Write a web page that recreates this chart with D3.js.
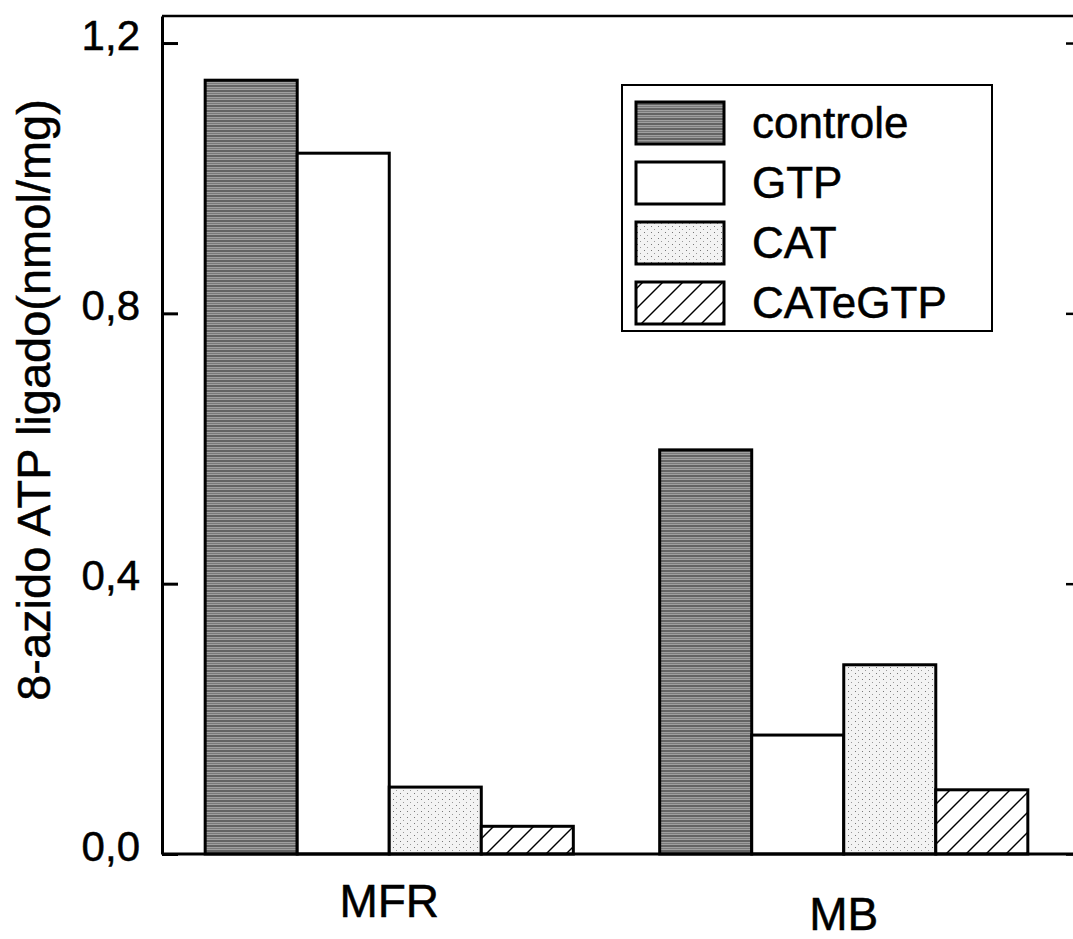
<!DOCTYPE html>
<html>
<head>
<meta charset="utf-8">
<script src="https://cdn.jsdelivr.net/npm/d3@7"></script>
<style>
	body { margin: 0; background: #fff; }
	text { font-family: 'Liberation Sans', Arial, sans-serif; fill: #000; stroke: #000; stroke-width: 0.5px; }
</style>
</head>
<body>
<div id="chart"></div>
<script>
// data
const groups = [ 'MFR', 'MB' ];
const seriesNames = [ 'controle', 'GTP', 'CAT', 'CATeGTP' ];
const controle = [ 1.145, 0.598 ];
const gtp = [ 1.037, 0.176 ];
const cat = [ 0.099, 0.28 ];
const catEGtp = [ 0.041, 0.095 ];
const yTicks = [ 0, 0.4, 0.8, 1.2 ];
const yLabel = '8-azido ATP ligado(nmol/mg)';

const seriesValues = [ controle, gtp, cat, catEGtp ];
const rows = [];
groups.forEach((g, gi) => {
	seriesNames.forEach((s, si) => {
		rows.push({ group: g, series: s, value: seriesValues[si][gi] });
	});
});

const W = 1073;
const H = 939;
const plotLeft = 162;
const plotRight = 1082;
const plotTop = 16;
const plotBottom = 854;

const svg = d3.select('#chart').append('svg').attr('width', W).attr('height', H);

// fill patterns
const defs = svg.append('defs');
const pCtrl = defs
	.append('pattern')
	.attr('id', 'p-controle')
	.attr('patternUnits', 'userSpaceOnUse')
	.attr('width', 8)
	.attr('height', 5);
pCtrl.append('rect').attr('width', 8).attr('height', 5).attr('fill', '#a0a0a0');
pCtrl.append('line').attr('x1', 0).attr('x2', 8).attr('y1', 1).attr('y2', 1).attr('stroke', '#3c3c3c').attr('stroke-width', 1.2);
pCtrl.append('line').attr('x1', 0).attr('x2', 8).attr('y1', 3.5).attr('y2', 3.5).attr('stroke', '#707070').attr('stroke-width', 0.8);

const pCat = defs
	.append('pattern')
	.attr('id', 'p-cat')
	.attr('patternUnits', 'userSpaceOnUse')
	.attr('width', 7)
	.attr('height', 6);
pCat.append('rect').attr('width', 7).attr('height', 6).attr('fill', '#f3f3f3');
pCat.append('rect').attr('x', 1).attr('y', 1).attr('width', 1).attr('height', 1).attr('fill', '#777');
pCat.append('rect').attr('x', 4).attr('y', 4).attr('width', 1).attr('height', 1).attr('fill', '#999');

const pHatch = defs
	.append('pattern')
	.attr('id', 'p-hatch')
	.attr('patternUnits', 'userSpaceOnUse')
	.attr('width', 20)
	.attr('height', 20);
pHatch.append('rect').attr('width', 20).attr('height', 20).attr('fill', '#fff');
pHatch.append('line').attr('x1', 0).attr('y1', 20).attr('x2', 20).attr('y2', 0).attr('stroke', '#000').attr('stroke-width', 1.4);
pHatch.append('line').attr('x1', -5).attr('y1', 5).attr('x2', 5).attr('y2', -5).attr('stroke', '#000').attr('stroke-width', 1.4);
pHatch.append('line').attr('x1', 15).attr('y1', 25).attr('x2', 25).attr('y2', 15).attr('stroke', '#000').attr('stroke-width', 1.4);

const fills = d3
	.scaleOrdinal()
	.domain(seriesNames)
	.range([ 'url(#p-controle)', '#fff', 'url(#p-cat)', 'url(#p-hatch)' ]);

// scales
const x0 = d3.scaleBand().domain(groups).range([ plotLeft, 1071 ]).paddingInner(0.19).paddingOuter(0.095);
const x1 = d3.scaleBand().domain(seriesNames).range([ 0, x0.bandwidth() ]);
const y = d3.scaleLinear().domain([ 0, 1.24 ]).range([ plotBottom, plotTop ]);

// bars
svg
	.append('g')
	.selectAll('rect')
	.data(rows)
	.enter()
	.append('rect')
	.attr('x', (d) => x0(d.group) + x1(d.series))
	.attr('y', (d) => y(d.value))
	.attr('width', x1.bandwidth())
	.attr('height', (d) => y(0) - y(d.value))
	.attr('fill', (d) => fills(d.series))
	.attr('stroke', '#000')
	.attr('stroke-width', 3);

// frame
svg.append('line').attr('x1', plotLeft).attr('x2', plotRight).attr('y1', plotTop).attr('y2', plotTop).attr('stroke', '#000').attr('stroke-width', 2.5);
svg.append('line').attr('x1', plotLeft).attr('x2', plotRight).attr('y1', plotBottom).attr('y2', plotBottom).attr('stroke', '#000').attr('stroke-width', 3);

// left axis, ticks pointing inward
const fmt = (d) => d3.format('.1f')(d).replace('.', ',');
const yAxis = svg
	.append('g')
	.attr('transform', `translate(${plotLeft},0)`)
	.call(d3.axisLeft(y).tickValues(yTicks).tickFormat(fmt).tickSizeInner(-16).tickSizeOuter(0).tickPadding(22));
yAxis.attr('font-family', null).attr('font-size', null);
yAxis.select('.domain').attr('stroke-width', 3);
yAxis.selectAll('.tick line').attr('stroke-width', 3);
yAxis.selectAll('.tick text').attr('font-size', 42).attr('dy', '0.15em').attr('fill', null);

// right axis (mostly cut off)
const yAxisR = svg
	.append('g')
	.attr('transform', `translate(${plotRight},0)`)
	.call(d3.axisRight(y).tickValues(yTicks).tickFormat('').tickSizeInner(-16).tickSizeOuter(0));
yAxisR.select('.domain').attr('stroke-width', 2.5);
yAxisR.selectAll('.tick line').attr('stroke-width', 2.5);

// group labels
svg
	.append('g')
	.selectAll('text')
	.data(groups)
	.enter()
	.append('text')
	.attr('x', (d) => x0(d) + x0.bandwidth() / 2)
	.attr('y', (d, i) => 917 + i * 13)
	.attr('text-anchor', 'middle')
	.attr('font-size', 46)
	.text((d) => d);

// y axis title
svg
	.append('text')
	.attr('transform', 'translate(50,400) rotate(-90)')
	.attr('text-anchor', 'middle')
	.attr('font-size', 47)
	.text(yLabel);

// legend
const legend = svg.append('g').attr('transform', 'translate(622,85)');
legend.append('rect').attr('width', 370).attr('height', 246).attr('fill', '#fff').attr('stroke', '#000').attr('stroke-width', 2);
const item = legend
	.selectAll('.item')
	.data(seriesNames)
	.enter()
	.append('g')
	.attr('class', 'item')
	.attr('transform', (d, i) => `translate(0,${38 + i * 60})`);
item
	.append('rect')
	.attr('x', 14)
	.attr('y', -21)
	.attr('width', 88)
	.attr('height', 42)
	.attr('fill', (d) => fills(d))
	.attr('stroke', '#000')
	.attr('stroke-width', 3);
item.append('text').attr('x', 130).attr('y', 15).attr('font-size', 44).text((d) => d);
</script>
</body>
</html>
